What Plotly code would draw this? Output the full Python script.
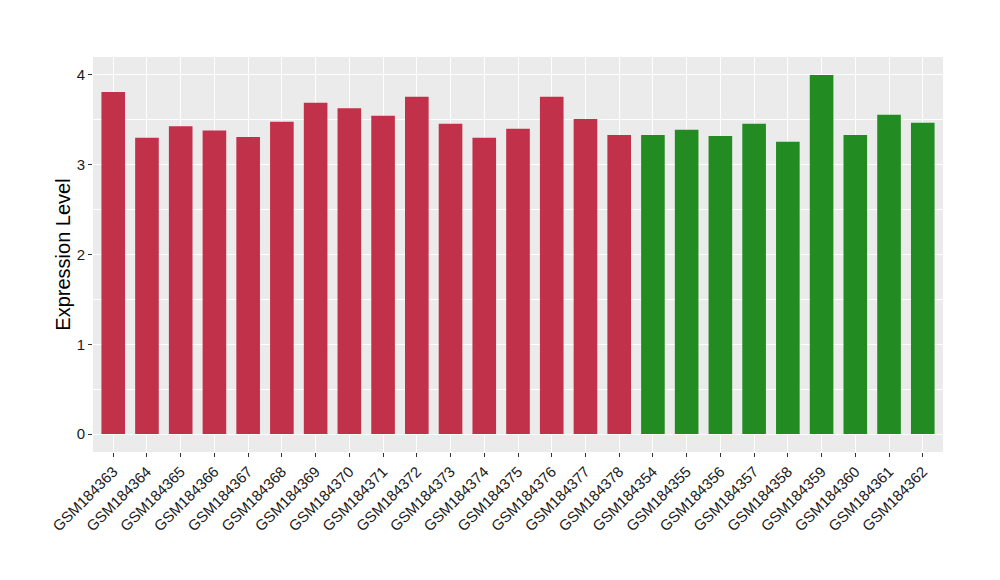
import plotly.graph_objects as go

samples = ["GSM184363", "GSM184364", "GSM184365", "GSM184366", "GSM184367", "GSM184368",
           "GSM184369", "GSM184370", "GSM184371", "GSM184372", "GSM184373", "GSM184374",
           "GSM184375", "GSM184376", "GSM184377", "GSM184378",
           "GSM184354", "GSM184355", "GSM184356", "GSM184357", "GSM184358", "GSM184359",
           "GSM184360", "GSM184361", "GSM184362"]
values = [3.81, 3.30, 3.43, 3.38, 3.31, 3.48, 3.69, 3.63, 3.545, 3.757, 3.456, 3.30,
          3.40, 3.757, 3.51, 3.33,
          3.33, 3.39, 3.32, 3.456, 3.255, 4.00, 3.33, 3.556, 3.467]
groups = ["A"] * 16 + ["B"] * 9
group_colors = {"A": "#C2314A", "B": "#228B22"}
y_ticks = [0, 1, 2, 3, 4]

fig = go.Figure()
fig.add_trace(go.Bar(
    x=samples, y=values,
    marker=dict(color=[group_colors[g] for g in groups], line=dict(width=0)),
    width=0.7, showlegend=False,
))

fig.update_layout(
    width=1000, height=580,
    margin=dict(l=85, r=65, t=49, b=136),
    paper_bgcolor="white", plot_bgcolor="#EBEBEB",
    font=dict(family="Liberation Sans, Arial, sans-serif", color="#1a1a1a"),
    bargap=0.3,
)
fig.update_xaxes(
    type="category", range=[-0.6, 24.6], automargin=False,
    tickangle=-45, tickfont=dict(size=15, color="#1a1a1a"),
    showgrid=True, gridcolor="white", gridwidth=1.2,
    ticks="outside", ticklen=4, tickcolor="#333333", tickwidth=1,
    showline=False, zeroline=False,
)
fig.update_yaxes(
    range=[-0.2, 4.2], tickvals=y_ticks, ticktext=[str(v) for v in y_ticks],
    automargin=False,
    tickfont=dict(size=15, color="#1a1a1a"),
    showgrid=True, gridcolor="white", gridwidth=1.2,
    minor=dict(dtick=0.5, tick0=0, showgrid=True, gridcolor="white", gridwidth=0.6),
    ticks="outside", ticklen=4, tickcolor="#333333", tickwidth=1,
    showline=False, zeroline=False,
    title=dict(text="Expression Level", font=dict(size=20, color="#000000"), standoff=0),
)

fig.write_html("out.html")
